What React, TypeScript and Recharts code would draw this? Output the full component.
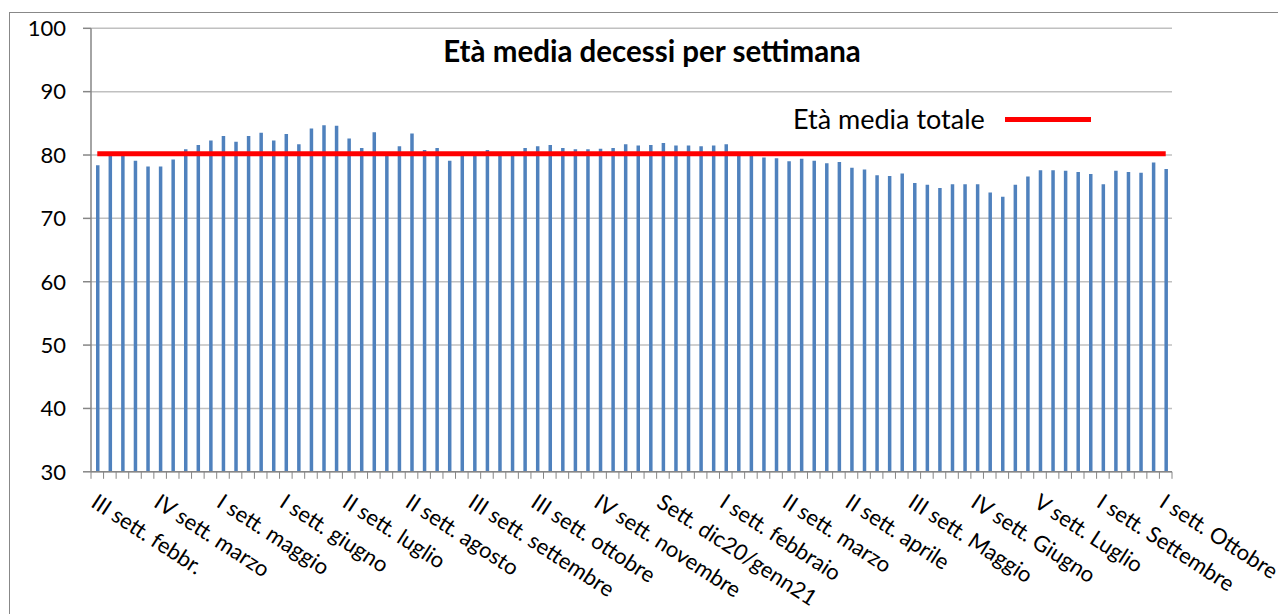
import React from 'react';
import { ComposedChart, Bar, XAxis, YAxis, CartesianGrid, ReferenceLine } from 'recharts';

// età media dei decessi, una barra per settimana
const etaMedia = [
  78.4, 80.0, 80.0, 79.1, 78.2, 78.2, 79.3, 80.9, 81.6, 82.3,
  83.0, 82.1, 83.0, 83.5, 82.3, 83.3, 81.7, 84.2, 84.7, 84.6,
  82.6, 81.1, 83.6, 80.0, 81.4, 83.4, 80.8, 81.1, 79.1, 80.0,
  80.1, 80.8, 80.0, 80.1, 81.1, 81.4, 81.6, 81.1, 80.9, 80.9,
  81.0, 81.1, 81.7, 81.5, 81.6, 81.9, 81.5, 81.5, 81.4, 81.5,
  81.7, 80.1, 80.0, 79.6, 79.5, 79.0, 79.4, 79.1, 78.7, 78.9,
  78.0, 77.7, 76.8, 76.7, 77.1, 75.6, 75.3, 74.8, 75.4, 75.4,
  75.4, 74.1, 73.4, 75.3, 76.6, 77.6, 77.6, 77.5, 77.3, 77.0,
  75.4, 77.5, 77.3, 77.2, 78.8, 77.8,
];

// etichette visibili (una ogni 5 settimane)
const xLabels = [
  'III sett. febbr.', 'IV sett. marzo', 'I sett. maggio', 'I sett. giugno',
  'II sett. luglio', 'II sett. agosto', 'III sett. settembre', 'III sett. ottobre',
  'IV sett. novembre', 'Sett. dic20/genn21', 'I sett. febbraio', 'II sett. marzo',
  'II sett. aprile', 'III sett. Maggio', 'IV sett. Giugno', 'V sett. Luglio',
  'I sett. Settembre', 'I sett. Ottobre',
];
const labelStep = 5;

const yTicks = [30, 40, 50, 60, 70, 80, 90, 100];
const etaMediaTotale = 80.2;

const data = etaMedia.map((v, i) => ({
  idx: i,
  label: i % labelStep === 0 ? xLabels[i / labelStep] ?? '' : '',
  eta: v,
}));

const FONT = 'Lato, "Noto Sans", sans-serif';
const AXIS = '#868686';

const XTick = (props: any) => {
  const { x, y, payload, index } = props;
  const half = payload?.offset ?? 6.28;
  const row = data[payload.value];
  const last = index === data.length - 1;
  return (
    <g>
      <line x1={x - half} y1={y} x2={x - half} y2={y + 7} stroke={AXIS} />
      {last && <line x1={x + half} y1={y} x2={x + half} y2={y + 7} stroke={AXIS} />}
      {row && row.label && (
        <g transform={`translate(${x + 1},${y + 21}) rotate(33)`}>
          <text x={0} y={0} dy="0.72em" textAnchor="start" fontSize={22} fill="#000" fontFamily={FONT}>
            {row.label}
          </text>
        </g>
      )}
    </g>
  );
};

export default function App() {
  return (
    <div style={{ position: 'relative', width: 1278, height: 606, overflow: 'hidden', fontFamily: FONT }}>
      <div
        style={{
          position: 'absolute', left: 1, top: 4, width: 1273, height: 640,
          border: '1px solid #888', boxSizing: 'border-box',
        }}
      />
      <ComposedChart
        width={1278}
        height={606}
        data={data}
        margin={{ top: 20.3, right: 114, bottom: 0, left: 0 }}
        barCategoryGap={0}
      >
        <CartesianGrid vertical={false} stroke="#c0c0c0" strokeWidth={1.5} />
        <XAxis
          dataKey="idx"
          type="category"
          interval={0}
          height={142.2}
          tickLine={false}
          tickSize={0}
          tickMargin={0}
          stroke={AXIS}
          strokeWidth={1.5}
          tick={<XTick />}
        />
        <YAxis
          type="number"
          domain={[30, 100]}
          ticks={yTicks}
          width={83}
          tickSize={8}
          tickMargin={17}
          stroke={AXIS}
          strokeWidth={1.5}
          tick={{ fill: '#000', fontSize: 22, fontFamily: FONT }}
          interval={0}
        />
        <Bar dataKey="eta" fill="#4f81bd" barSize={3.5} isAnimationActive={false} />
        <ReferenceLine
          segment={[{ x: 0, y: etaMediaTotale }, { x: data.length - 1, y: etaMediaTotale }]}
          stroke="#ff0000"
          strokeWidth={5}
          ifOverflow="visible"
        />
      </ComposedChart>
      <div
        style={{
          position: 'absolute', left: 0, width: 1288, top: 24.5, textAlign: 'center',
          fontSize: 29.5, fontWeight: 700, color: '#000', lineHeight: '36px',
        }}
      >
        Età media decessi per settimana
      </div>
      <div style={{ position: 'absolute', left: 785, top: 93, display: 'flex', alignItems: 'center' }}>
        <span style={{ fontSize: 27, color: '#000', lineHeight: '36px' }}>Età media totale</span>
        <span style={{ display: 'inline-block', width: 86, height: 5, background: '#ff0000', marginLeft: 20 }} />
      </div>
    </div>
  );
}
